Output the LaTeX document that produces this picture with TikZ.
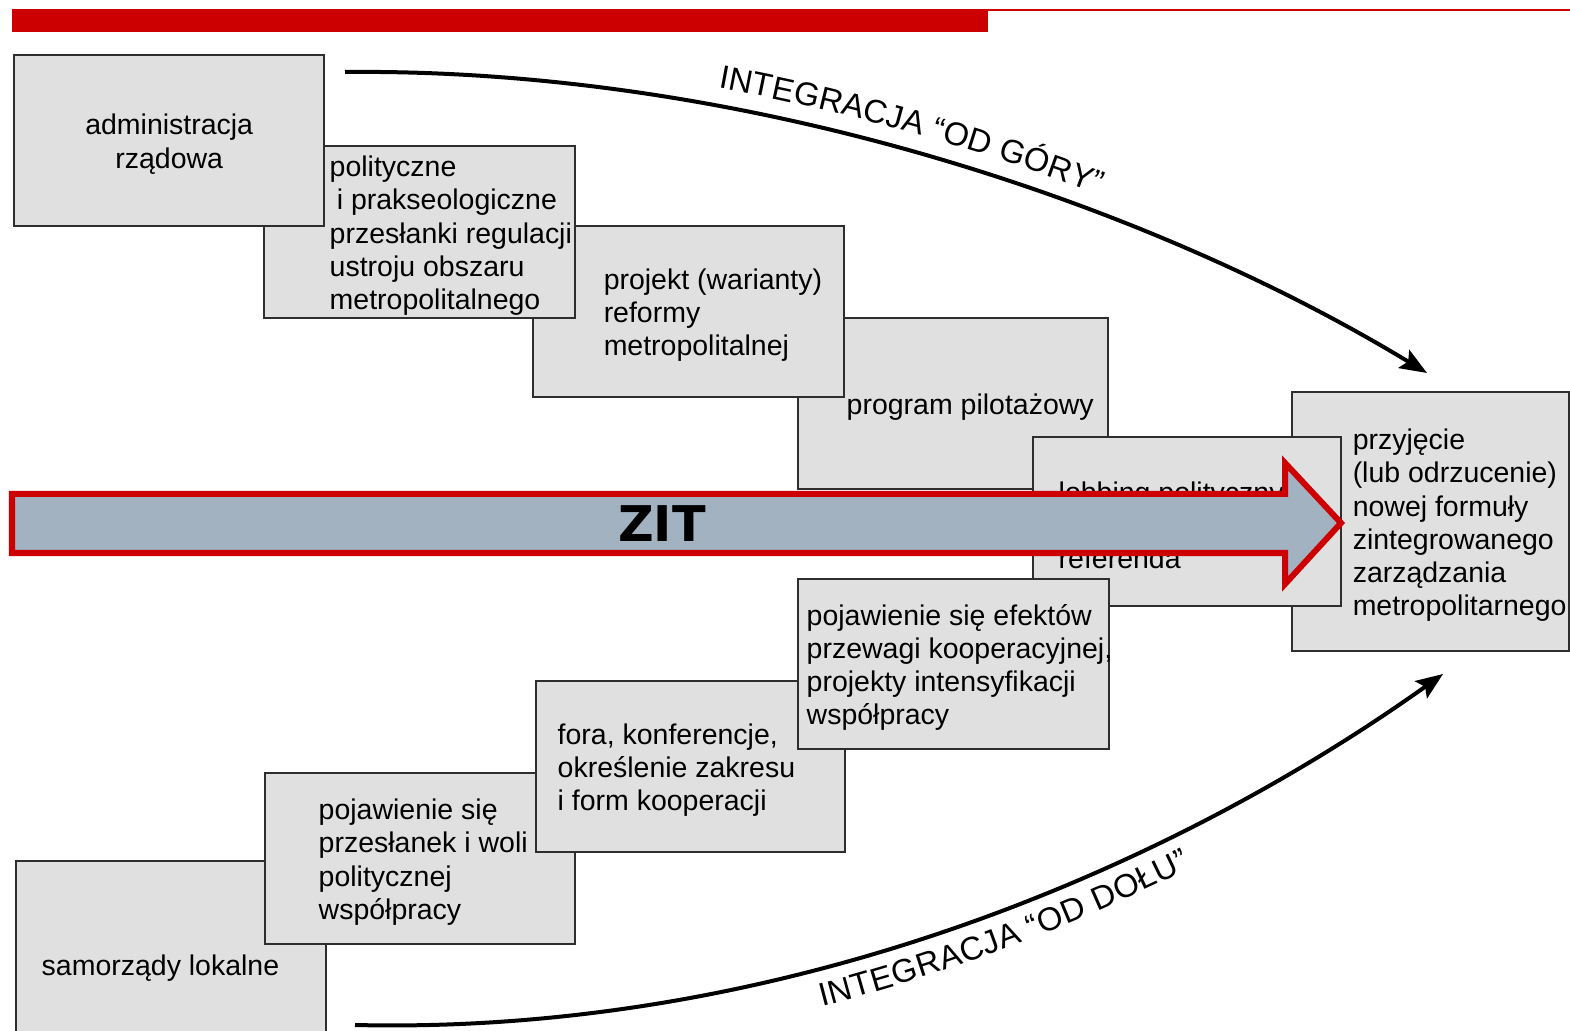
\documentclass[tikz,border=0pt]{standalone}
\usepackage{fontspec}
\setmainfont{Liberation Sans}
\newfontfamily\zitfont{DejaVu Sans}
\usetikzlibrary{positioning,arrows.meta,decorations.text}
\definecolor{boxgray}{HTML}{E0E0E0}
\definecolor{edgegray}{HTML}{2E2E2E}
\definecolor{barred}{HTML}{CC0000}
\definecolor{zitblue}{HTML}{A3B2C1}
\newcommand\curvefont{\fontsize{9.3}{11}\selectfont}

\begin{document}
\begin{tikzpicture}[x=0.01cm,y=-0.01cm,
  box/.style={draw=edgegray,fill=boxgray,line width=0.022cm,anchor=north west,
    minimum width=3.1cm,minimum height=1.71cm,inner sep=0pt},
  txt/.style={align=left,inner sep=0pt,yshift=-0.035cm,font=\fontsize{8.1}{9.4}\selectfont},
  curve/.style={line width=0.04cm,-{Stealth[length=0.27cm,width=0.21cm,inset=0.05cm]}}]
\useasboundingbox (0,0) rectangle (1570,1031);

% red bar on top
\fill[barred] (12,9) rectangle (988,32);
\draw[barred,line width=0.02cm] (988,10) -- (1570,10);

% upper steps
\node[box,minimum width=2.77cm,minimum height=2.59cm] (przyjecie) at (1291,391) {};
\node[txt,right=0.61cm of przyjecie.west] (tprzyjecie) {przyjęcie\\(lub odrzucenie)\\nowej formuły\\zintegrowanego\\zarządzania\\metropolitarnego};
\node[box] (pilotaz) at (797,317) {};
\node[txt,right=0.49cm of pilotaz.west] (tpilotaz) {program pilotażowy};
\node[box,minimum width=3.11cm] (projekt) at (532,225) {};
\node[txt,right=0.71cm of projekt.west] (tprojekt) {projekt (warianty)\\reformy\\metropolitalnej};
\node[box,minimum width=3.11cm,minimum height=1.72cm] (przeslanki) at (263,145) {};
\node[txt,right=0.66cm of przeslanki.west] (tprzeslanki) {polityczne\\\hspace*{0.25em}i prakseologiczne\\przesłanki regulacji\\ustroju obszaru\\metropolitalnego};
\node[box] (rzad) at (13,54) {};
\node[txt,align=center] (trzad) at (rzad.center) {administracja\\rządowa};

% lobbing
\node[box,minimum width=3.08cm,minimum height=1.69cm] (lobbing) at (1032,436) {};
\node[txt,right=0.26cm of lobbing.west] (tlobbing) {lobbing polityczny\\[9.4pt]referenda};

% lower steps
\node[box,minimum height=2.06cm] (samorzad) at (15,860) {};
\node[txt,right=0.26cm of samorzad.west] (tsamorzad) {samorządy lokalne};
\node[box] (wola) at (264,772) {};
\node[txt,right=0.54cm of wola.west] (twola) {pojawienie się\\przesłanek i woli\\politycznej\\współpracy};
\node[box,minimum width=3.09cm] (fora) at (535,680) {};
\node[txt,right=0.22cm of fora.west] (tfora) {fora, konferencje,\\określenie zakresu\\i form kooperacji};
\node[box,minimum width=3.11cm,minimum height=1.70cm] (efekty) at (797,578) {};
\node[txt,right=0.09cm of efekty.west] (tefekty) {pojawienie się efektów\\przewagi kooperacyjnej,\\projekty intensyfikacji\\współpracy};

% ZIT arrow
\draw[barred,fill=zitblue,line width=0.06cm,line join=miter]
  (12,494) -- (1285,494) -- (1285,463) -- (1341,523) -- (1285,584) -- (1285,553) -- (12,553) -- cycle;
\node[font=\zitfont\bfseries\fontsize{14}{16}\selectfont] (zit) at (662,524) {ZIT};

% integration curves
\coordinate (gorastart) at (345,72);
\coordinate (goraend) at (1427,373);
\coordinate (dolstart) at (355,1025);
\coordinate (dolend) at (1443,674);
\draw[curve] (gorastart) .. controls (750,68) and (1150,205) .. (goraend);
\path[decorate,decoration={text along path,raise=0.18cm,text align={left indent=3.72cm},
  text={|\curvefont|INTEGRACJA “OD GÓRY”}}]
  (gorastart) .. controls (750,68) and (1150,205) .. (goraend);
\draw[curve] (dolstart) .. controls (780,1035) and (1165,872) .. (dolend);
\path[decorate,decoration={text along path,raise=-0.37cm,text align={left indent=4.62cm},
  text={|\curvefont|INTEGRACJA “OD DOŁU”}}]
  (dolstart) .. controls (780,1035) and (1165,872) .. (dolend);
\end{tikzpicture}
\end{document}
